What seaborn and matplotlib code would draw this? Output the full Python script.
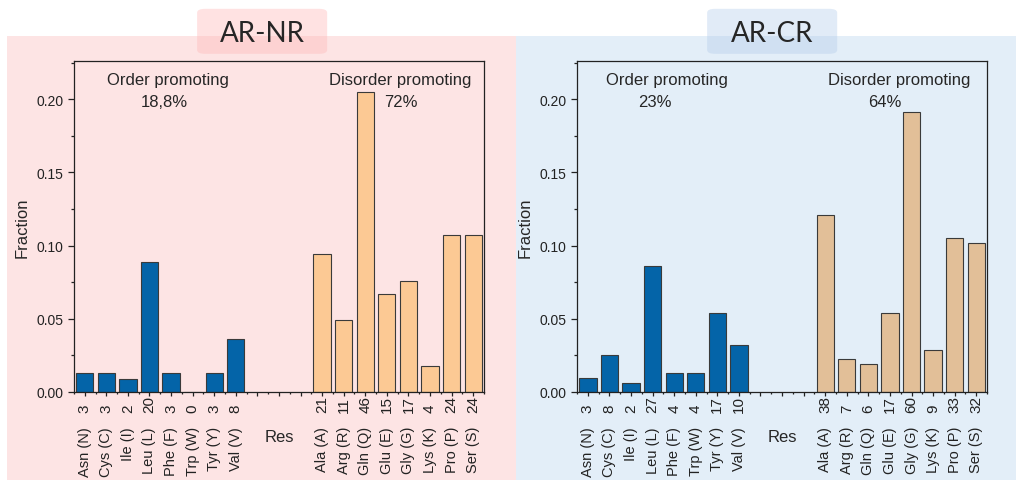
import matplotlib.pyplot as plt
import matplotlib.patches as mpatches
from matplotlib.ticker import MultipleLocator
import seaborn as sns
import pandas as pd

# residue names (order promoting, then disorder promoting)
order_res = ['Asn (N)', 'Cys (C)', 'Ile (I)', 'Leu (L)', 'Phe (F)', 'Trp (W)', 'Tyr (Y)', 'Val (V)']
disorder_res = ['Ala (A)', 'Arg (R)', 'Gln (Q)', 'Glu (E)', 'Gly (G)', 'Lys (K)', 'Pro (P)', 'Ser (S)']
gap = ['', ' ', '  ']

# AR-NR
nr_order_counts = [3, 3, 2, 20, 3, 0, 3, 8]
nr_disorder_counts = [21, 11, 46, 15, 17, 4, 24, 24]
nr_order_frac = [0.013, 0.013, 0.009, 0.089, 0.013, 0.0, 0.013, 0.036]
nr_disorder_frac = [0.094, 0.049, 0.205, 0.067, 0.076, 0.018, 0.107, 0.107]

# AR-CR
cr_order_counts = [3, 8, 2, 27, 4, 4, 17, 10]
cr_disorder_counts = [38, 7, 6, 17, 60, 9, 33, 32]
cr_order_frac = [0.0096, 0.0255, 0.0064, 0.086, 0.0127, 0.0127, 0.054, 0.0318]
cr_disorder_frac = [0.121, 0.0223, 0.0191, 0.054, 0.191, 0.0287, 0.105, 0.102]

panels = [
    dict(title='AR-NR', oc=nr_order_counts, dc=nr_disorder_counts, of=nr_order_frac, df=nr_disorder_frac,
         o_pct='18,8%', d_pct='72%', dis_color='#FCC994', bg='#FDE4E4', box='#FFB8B8',
         txt=(0.23, 0.22, 0.796, 0.797)),
    dict(title='AR-CR', oc=cr_order_counts, dc=cr_disorder_counts, of=cr_order_frac, df=cr_disorder_frac,
         o_pct='23%', d_pct='64%', dis_color='#E2BF98', bg='#E3EEF8', box='#B4CDEB',
         txt=(0.22, 0.19, 0.785, 0.75)),
]

sns.set_style('ticks')
plt.rcParams['font.family'] = ['Liberation Sans', 'DejaVu Sans']

fig = plt.figure(figsize=(10.16, 4.81), dpi=100)
fig.patch.set_facecolor('white')

# panel backgrounds
fig.patches.append(mpatches.Rectangle((0.0069, 0), 0.5011, 0.923, transform=fig.transFigure,
                                      facecolor=panels[0]['bg'], edgecolor='none', zorder=-10))
fig.patches.append(mpatches.Rectangle((0.508, 0), 0.492, 0.923, transform=fig.transFigure,
                                      facecolor=panels[1]['bg'], edgecolor='none', zorder=-10))

axes_left = [0.0728, 0.568]
order_all = order_res + gap + disorder_res

for p, left, box_x in zip(panels, axes_left, [0.194, 0.696]):
    # title box
    fig.patches.append(mpatches.FancyBboxPatch((box_x, 0.886), 0.128, 0.0936,
                                               boxstyle='round,pad=0,rounding_size=0.008',
                                               transform=fig.transFigure, facecolor=p['box'],
                                               alpha=0.4, edgecolor='none', zorder=-5))
    fig.text(box_x + 0.064, 0.929, p['title'], ha='center', va='center', fontsize=20, family='Lato')

    ax = fig.add_axes([left, 0.183, 0.4035, 0.688])
    ax.patch.set_alpha(0)
    df = pd.DataFrame({
        'res': order_res + disorder_res,
        'frac': p['of'] + p['df'],
        'group': ['order'] * 8 + ['disorder'] * 8,
    })
    sns.barplot(data=df, x='res', y='frac', hue='group', order=order_all, dodge=False,
                palette={'order': '#0464A8', 'disorder': p['dis_color']}, saturation=1,
                edgecolor='#3a3a3a', linewidth=0.8, width=0.8, legend=False, ax=ax)

    ax.set_xlim(-0.5, 18.5)
    ax.set_ylim(0, 0.226)
    ax.yaxis.set_major_locator(MultipleLocator(0.05))
    ax.yaxis.set_minor_locator(MultipleLocator(0.025))
    ax.set_yticks([0, 0.05, 0.10, 0.15, 0.20], ['0.00', '0.05', '0.10', '0.15', '0.20'])
    ax.set_xticks(range(19), order_all)
    ax.set_xticks([i - 0.5 for i in range(20)], minor=True)
    for s in ax.spines.values():
        s.set_visible(True)
        s.set_color('#222222')
        s.set_linewidth(0.9)
    ax.tick_params(axis='y', which='major', length=4, width=0.9, labelsize=10, colors='#222222')
    ax.tick_params(axis='y', which='minor', length=2.2, width=0.9, colors='#222222')
    ax.tick_params(axis='x', which='major', length=3, width=0.9, labelsize=10.5, rotation=90,
                   pad=21.5, colors='#222222')
    ax.tick_params(axis='x', which='minor', length=1.5, width=0.9, colors='#222222')

    counts = p['oc'] + [None] * 3 + p['dc']
    for i, c in enumerate(counts):
        if c is None:
            continue
        ax.annotate(str(c), xy=(i, 0), xycoords=('data', 'axes fraction'), xytext=(0, -14.4),
                    textcoords='offset points', rotation=90, ha='center', va='bottom',
                    fontsize=11, color='#222222')

    ax.set_xlabel('Res', fontsize=12)
    ax.xaxis.set_label_coords(0.5, -0.112)
    ax.set_ylabel('Fraction', fontsize=12)
    ax.yaxis.set_label_coords(-0.108, 0.5)

    tx = p['txt']
    ax.text(tx[0], 0.943, 'Order promoting', transform=ax.transAxes, ha='center', va='center', fontsize=12)
    ax.text(tx[1], 0.879, p['o_pct'], transform=ax.transAxes, ha='center', va='center', fontsize=12)
    ax.text(tx[2], 0.943, 'Disorder promoting', transform=ax.transAxes, ha='center', va='center', fontsize=12)
    ax.text(tx[3], 0.879, p['d_pct'], transform=ax.transAxes, ha='center', va='center', fontsize=12)

fig.savefig('out.png', dpi=100)
